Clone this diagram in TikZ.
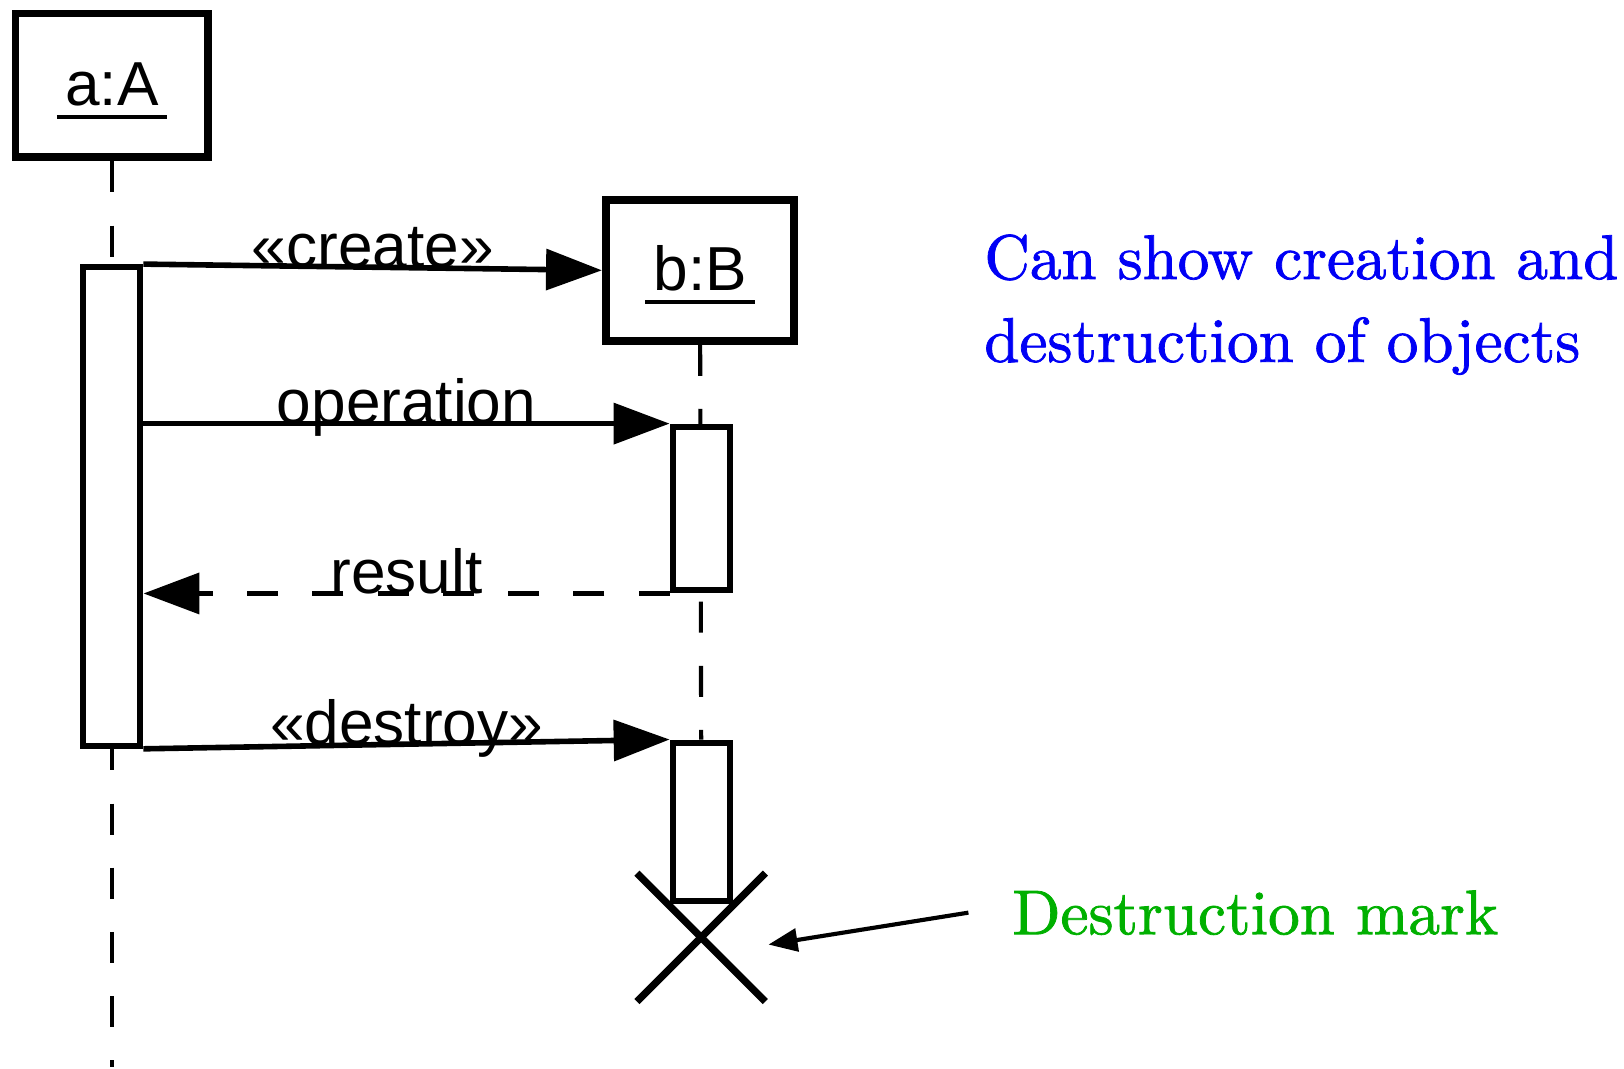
\documentclass[tikz,border=0pt]{standalone}
\usepackage{fontspec}
\newfontfamily\diagfont{Liberation Sans}
\newfontfamily\annfont{lmroman10-regular}[Extension=.otf, RawFeature={embolden=1.2}]
\usetikzlibrary{arrows.meta,calc}
\pgfdeclarelayer{bg}
\pgfsetlayers{bg,main}
\definecolor{annblue}{RGB}{0,0,245}
\definecolor{anngreen}{RGB}{0,176,0}
\newcommand\objlabel[1]{\setbox0=\hbox{#1}\leavevmode\rlap{\kern-4pt\lower6.5pt\hbox{\vrule width\dimexpr\wd0+8pt\relax height 2pt depth 0pt}}\box0}
\begin{document}
\begin{tikzpicture}[x=0.5pt,y=-0.5pt,
  obj/.style={draw, line width=3.8pt, font=\diagfont\fontsize{30pt}{36pt}\selectfont, text height=26pt, text depth=6.5pt, inner sep=0pt},
  act/.style={draw, fill=white, line width=3pt, minimum width=27.5pt, inner sep=0pt},
  msg/.style={line width=2.7pt, -{Triangle[length=27pt,width=19.5pt]}},
  ret/.style={msg, dash pattern=on 15pt off 16.5pt},
  lifeline/.style={line width=2pt, dash pattern=on 15pt off 16pt},
  lbl/.style={font=\diagfont\fontsize{30pt}{36pt}\selectfont, inner sep=0pt, anchor=base, midway},
  ann/.style={font=\annfont\fontsize{30.5pt}{40pt}\selectfont, inner sep=0pt},
  xmark/.style={line width=3.5pt},
  pointer/.style={line width=2pt, -{Triangle[length=14pt,width=11pt]}}]
\useasboundingbox (0,0) rectangle (1568,1032);
% objects
\node[obj, minimum width=93pt, minimum height=69.5pt] (a) at (108,82.5) {\objlabel{a:A}};
\node[obj, minimum width=91pt, minimum height=68pt] (b) at (676,261) {\objlabel{b:B}};
% activations
\node[act, minimum height=231pt] (aact) at (108,489) {};
\node[act, minimum height=79pt] (bact1) at (677,491) {};
\node[act, minimum height=76.5pt] (bact2) at (677,793.5) {};
\coordinate (aend) at (108,1030);
\coordinate (xc) at (677,905);
% lifelines
\begin{pgfonlayer}{bg}
\draw[lifeline] (a.south) -- (aend);
\draw[lifeline] (b.south) -- (bact2.north);
\end{pgfonlayer}
% messages
\draw[msg] (aact.north east) -- node[lbl]{«create»} (b.west);
\draw[msg] (aact.east |- bact1.north west) -- node[lbl]{operation} (bact1.north west);
\draw[ret] (bact1.south west) -- node[lbl]{result} (aact.east |- bact1.south west);
\draw[msg] (aact.south east) -- node[lbl]{«destroy»} (bact2.north west);
% destruction mark
\draw[xmark] ($(xc)+(-62,-62)$) -- ($(xc)+(62,62)$);
\draw[xmark] ($(xc)+(62,-62)$) -- ($(xc)+(-62,62)$);
% annotations
\node[ann, text=annblue, anchor=north west, align=left] (note) at (950,226) {Can show creation and\\destruction of objects};
\node[ann, text=anngreen, anchor=base west] (dm) at (977,902) {Destruction mark};
\coordinate (xtip) at ($(xc)+(65,7)$);
\draw[pointer] ($(dm.west)+(-42,0)$) -- (xtip);
\end{tikzpicture}
\end{document}
